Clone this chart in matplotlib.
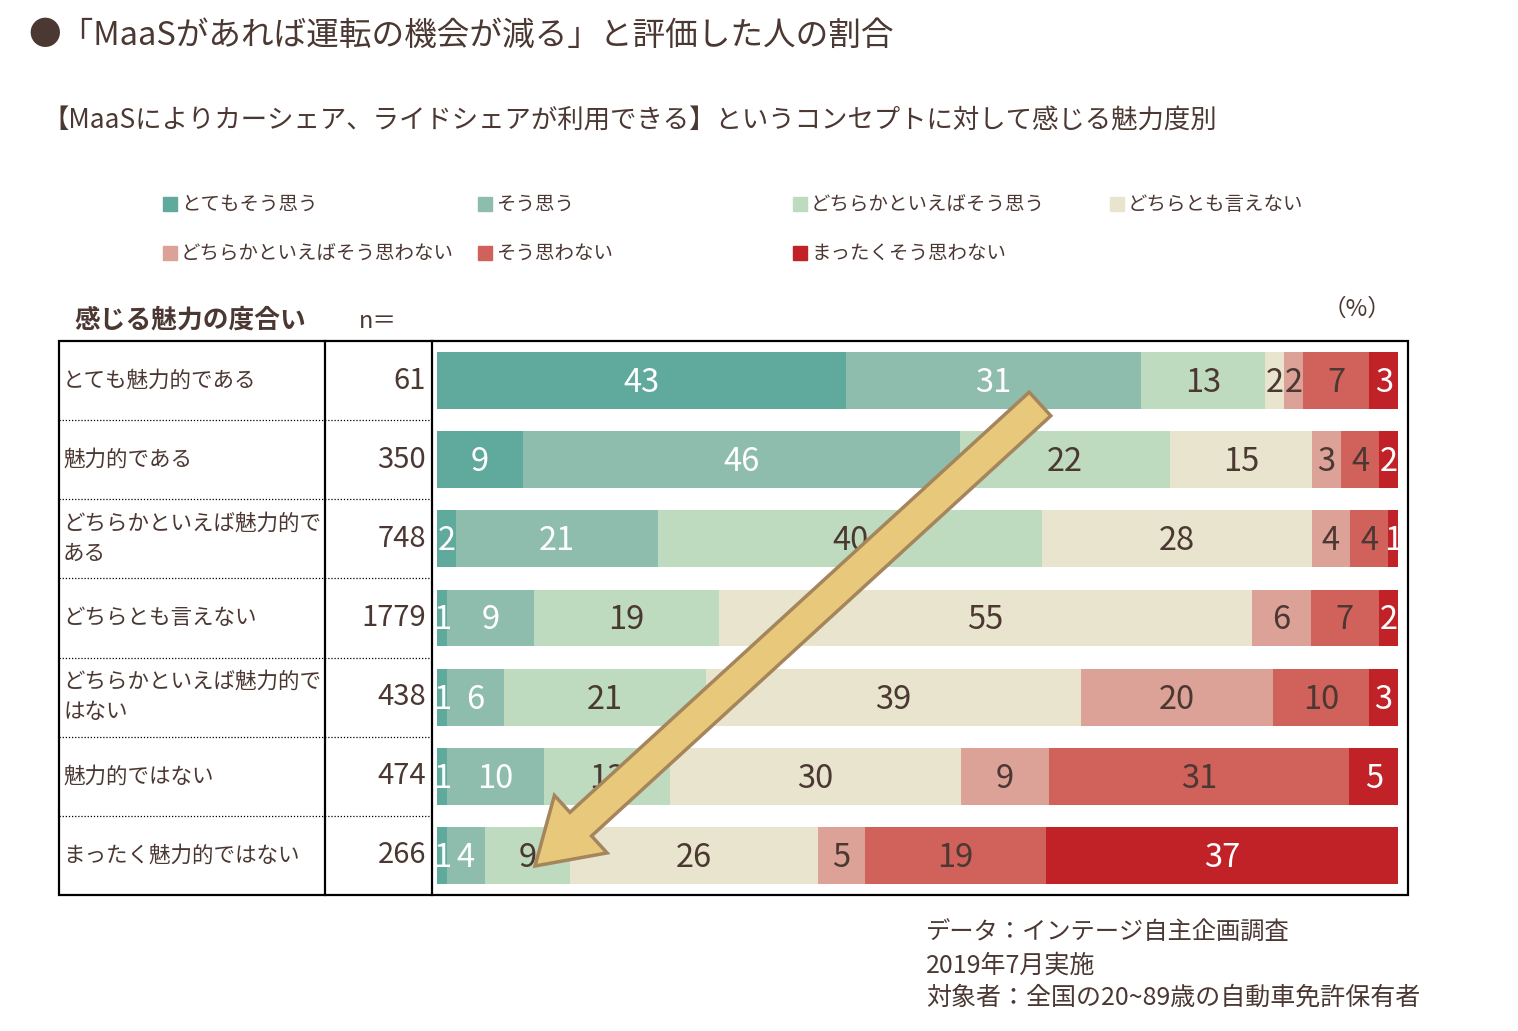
import numpy as np
import matplotlib
matplotlib.use('Agg')
import matplotlib.pyplot as plt
from matplotlib.patches import FancyArrow, Rectangle

plt.rcParams['font.family'] = ['Noto Sans CJK JP', 'DejaVu Sans']

# data
categories = ['とてもそう思う', 'そう思う', 'どちらかといえばそう思う', 'どちらとも言えない',
              'どちらかといえばそう思わない', 'そう思わない', 'まったくそう思わない']
colors = ['#5fa99d', '#8ebdae', '#bedbc0', '#e9e4cd', '#dda297', '#d0615b', '#c02228']
label_colors = ['white', 'white', '#4b3832', '#4b3832', '#4b3832', '#4b3832', 'white']

rows = ['とても魅力的である', '魅力的である', 'どちらかといえば魅力的で\nある', 'どちらとも言えない',
        'どちらかといえば魅力的で\nはない', '魅力的ではない', 'まったく魅力的ではない']
n_values = [61, 350, 748, 1779, 438, 474, 266]
values = [
    [43, 31, 13, 2, 2, 7, 3],
    [9, 46, 22, 15, 3, 4, 2],
    [2, 21, 40, 28, 4, 4, 1],
    [1, 9, 19, 55, 6, 7, 2],
    [1, 6, 21, 39, 20, 10, 3],
    [1, 10, 13, 30, 9, 31, 5],
    [1, 4, 9, 26, 5, 19, 37],
]

TXT = '#4b3832'
W, H = 1518, 1031
fig = plt.figure(figsize=(W / 100, H / 100), dpi=100)

# bar chart area
ax = fig.add_axes([437 / W, 1 - 895 / H, (1398 - 437) / W, (895 - 341) / H])
vals = np.array(values, dtype=float)
shares = vals / vals.sum(axis=1, keepdims=True) * 100
left = np.zeros(len(rows))
ypos = np.arange(len(rows))
for j, cat in enumerate(categories):
    ax.barh(ypos, shares[:, j], left=left, height=0.72, color=colors[j], edgecolor='none')
    for i in range(len(rows)):
        cx = left[i] + shares[i, j] / 2
        ax.text(cx, ypos[i] + 0.03, str(values[i][j]), ha='center', va='center',
                fontsize=23.5, color=label_colors[j])
    left += shares[:, j]
ax.set_xlim(0, 100)
ax.set_ylim(len(rows) - 0.5, -0.5)
ax.axis('off')

# overlay in pixel coords
ov = fig.add_axes([0, 0, 1, 1])
ov.set_xlim(0, W)
ov.set_ylim(H, 0)
ov.axis('off')
ov.patch.set_alpha(0)

ov.text(28, 36, '●「MaaSがあれば運転の機会が減る」と評価した人の割合', fontsize=23.5,
        color=TXT, va='center', ha='left')
ov.text(42, 121, '【MaaSによりカーシェア、ライドシェアが利用できる】というコンセプトに対して感じる魅力度別',
        fontsize=19, color=TXT, va='center', ha='left')

# legend
leg_x = [163, 478, 793, 1110, 163, 478, 793]
leg_y = [204, 204, 204, 204, 253, 253, 253]
for k, cat in enumerate(categories):
    ov.add_patch(Rectangle((leg_x[k], leg_y[k] - 7), 14, 14, color=colors[k]))
    ov.text(leg_x[k] + 18, leg_y[k], cat, fontsize=14, color=TXT, va='center', ha='left')

# table header
ov.text(74, 320, '感じる魅力の度合い', fontsize=18.5, fontweight='bold', color=TXT, va='center')
ov.text(359, 321, 'n＝', fontsize=17, color=TXT, va='center')
ov.text(1357, 309, '（%）', fontsize=17, color=TXT, va='center', ha='center')

# table frame
top, bot = 341, 895
row_h = (bot - top) / len(rows)
ov.add_patch(Rectangle((59, top), 1408 - 59, bot - top, fill=False, lw=1.6, ec='black', zorder=3))
ov.plot([325, 325], [top, bot], color='black', lw=1.6)
ov.plot([432, 432], [top, bot], color='black', lw=1.6)
for i in range(1, len(rows)):
    yy = top + row_h * i
    ov.plot([59, 432], [yy, yy], color='black', lw=0.9, ls=(0, (1, 1.5)))

for i, (r, n) in enumerate(zip(rows, n_values)):
    yc = top + row_h * (i + 0.5)
    ov.text(63, yc, r, fontsize=15.5, color=TXT, va='center', ha='left', linespacing=1.5)
    ov.text(426, yc, str(n), fontsize=21, color=TXT, va='center', ha='right')

# footnote
ov.text(926, 933, 'データ：インテージ自主企画調査', fontsize=17.5, color=TXT, va='center')
ov.text(926, 966, '2019年7月実施', fontsize=18, color=TXT, va='center')
ov.text(926, 998, '対象者：全国の20~89歳の自動車免許保有者', fontsize=18, color=TXT, va='center')

# arrow
x0, y0, x1, y1 = 1040, 404, 535, 866
arr = FancyArrow(x0, y0, x1 - x0, y1 - y0, width=32, head_width=78, head_length=62,
                 length_includes_head=True, fc='#e8c97b', ec='#a5855b', lw=2.5, zorder=5)
ov.add_patch(arr)

fig.savefig('out.png', dpi=100)
